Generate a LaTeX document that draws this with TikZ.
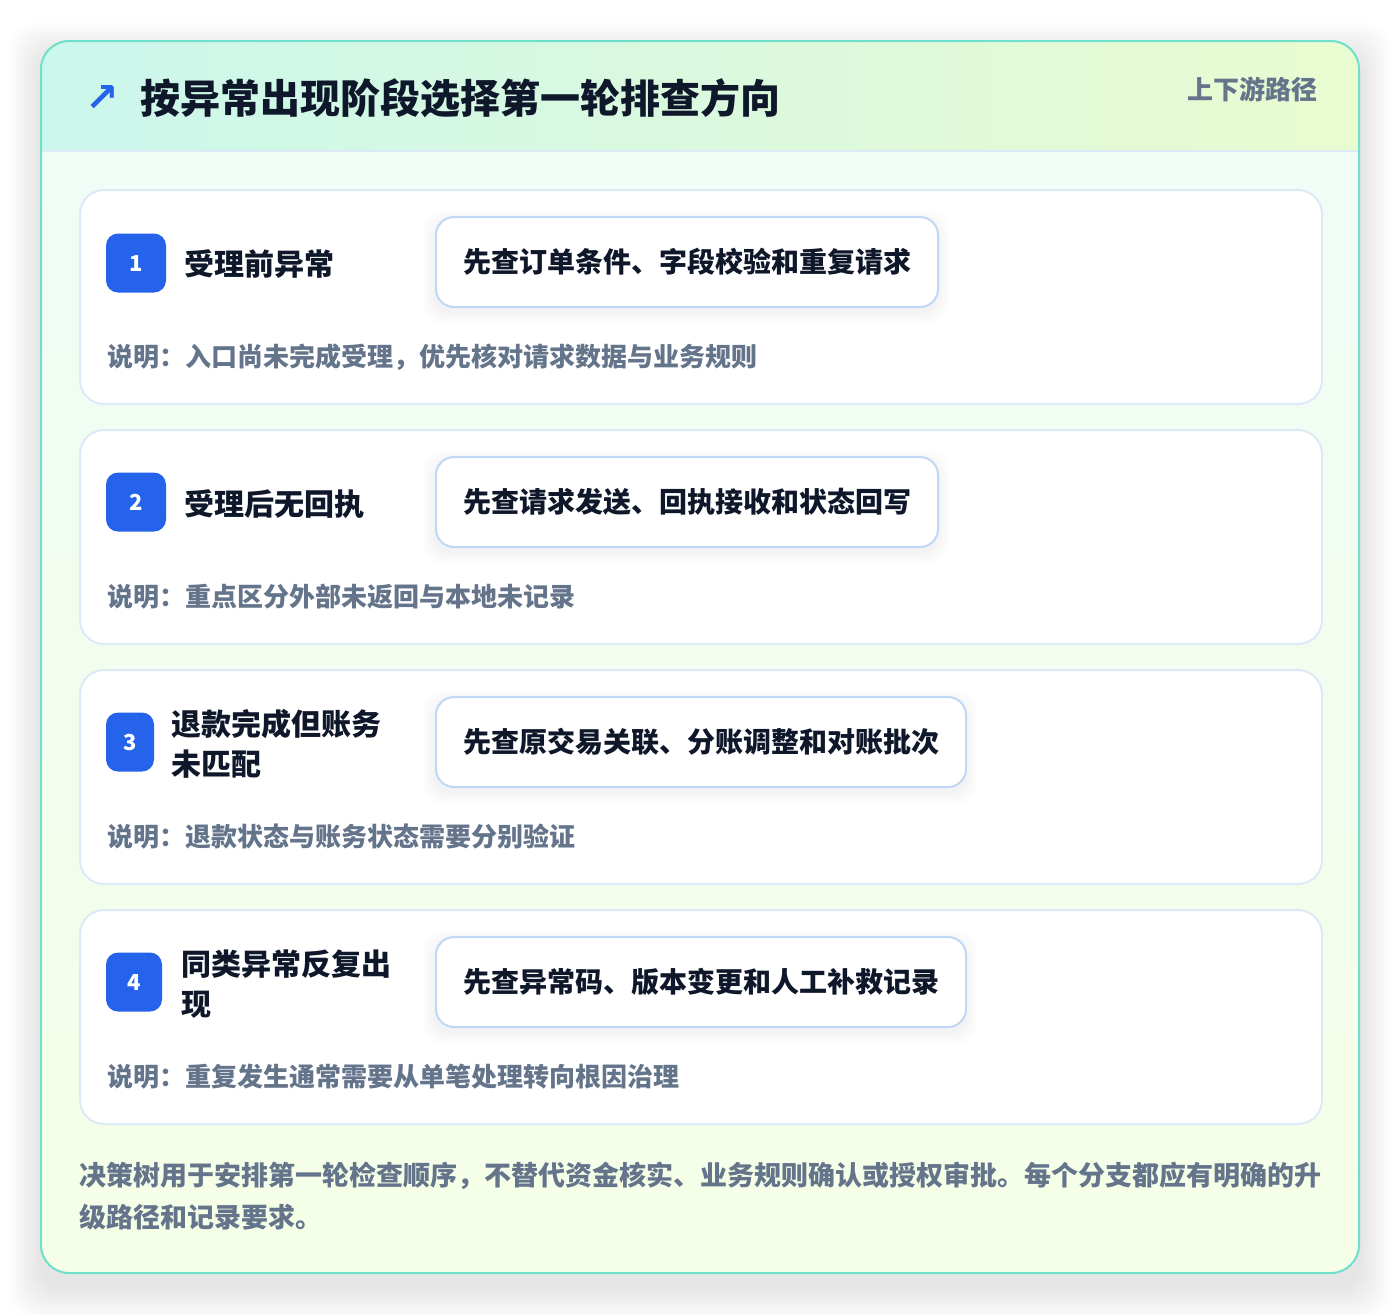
\documentclass[tikz,border=0pt]{standalone}
\usepackage{fontspec}
\setmainfont{Noto Sans CJK SC}
\newfontfamily\symfont{DejaVu Sans}

\definecolor{frameteal}{HTML}{6EE0CB}
\definecolor{headL}{HTML}{CBF7EC}
\definecolor{headR}{HTML}{E9FBD0}
\definecolor{bodyT}{HTML}{EFFCF8}
\definecolor{bodyB}{HTML}{F5FEE6}
\definecolor{cardline}{HTML}{DCE9F7}
\definecolor{boxline}{HTML}{BFD8F5}
\definecolor{badgeblue}{HTML}{2563EB}
\definecolor{ink}{HTML}{0F172A}
\definecolor{slate}{HTML}{64748B}

\tikzset{
  card/.style={draw=cardline, line width=1pt, fill=white, rounded corners=12pt,
    minimum width=621pt, minimum height=107pt, anchor=north west, inner sep=0pt},
  badge/.style={fill=badgeblue, rounded corners=6pt, text=white, inner sep=0pt,
    minimum height=29.5pt, font=\bfseries\fontsize{11}{13}\selectfont},
  label/.style={anchor=west, inner sep=0pt, align=left, text=ink,
    font=\bfseries\fontsize{15}{20}\selectfont},
  action/.style={draw=boxline, line width=1pt, fill=white, rounded corners=9pt,
    minimum height=45pt, anchor=west, text=ink, font=\bfseries\fontsize{14}{17}\selectfont},
  note/.style={anchor=west, inner sep=0pt, text=slate, font=\bfseries\fontsize{13}{16}\selectfont},
  haze/.style={fill=black, opacity=0.009}
}

% soft shadow under a box given by two corners (px)
\newcommand{\softshadow}[5]{%
  \foreach \i in {1,...,#5}
    \fill[haze, opacity=0.007, rounded corners=14pt] (#1-\i*2.5,#2-\i*2.5+14) rectangle (#3+\i*2.5,#4+\i*2.5+14);
}

\begin{document}
\begin{tikzpicture}[x=0.5pt, y=-0.5pt]
		\useasboundingbox (0,0) rectangle (1400,1314);
		\fill[white] (0,0) rectangle (1400,1314);

		% outer frame
		\softshadow{41}{41}{1359}{1273}{13}
		\shade[top color=bodyT, bottom color=bodyB, rounded corners=14pt] (41,41) rectangle (1359,1273);
		\begin{scope}
			\clip[rounded corners=14pt] (41,41) rectangle (1359,1273);
			\shade[left color=headL, right color=headR] (41,41) rectangle (1359,151);
		\end{scope}
		\draw[cardline, line width=1pt] (41,151) -- (1359,151);
		\draw[frameteal, line width=1pt, rounded corners=14pt] (41,41) rectangle (1359,1273);

		% header
		\node (icon)  [text=badgeblue, font=\symfont\bfseries\fontsize{20}{20}\selectfont] at (102,98) {↗};
		\node (title) [anchor=west, inner sep=0pt, text=ink, font=\bfseries\fontsize{20}{24}\selectfont]
		  at (140,98) {按异常出现阶段选择第一轮排查方向};
		\node (tag)   [anchor=east, inner sep=0pt, text=slate, font=\bfseries\fontsize{13}{16}\selectfont]
		  at (1318,89) {上下游路径};

		% branch 1
		\node (c1) [card] at (79,189) {};
		\node (b1) [badge, minimum width=30pt] at (136,263) {1};
		\node (t1) [label] at (184,264) {受理前异常};
		\foreach \i in {1,...,6}
		  \fill[haze, rounded corners=10pt] (435-\i*2,217-\i*2+5) rectangle (937+\i*2,307+\i*2+5);
		\node (a1) [action, minimum width=251pt] at (435,262) {先查订单条件、字段校验和重复请求};
		\node (n1) [note] at (107,357) {说明：入口尚未完成受理，优先核对请求数据与业务规则};

		% branch 2
		\node (c2) [card] at (79,429) {};
		\node (b2) [badge, minimum width=30pt] at (136,502) {2};
		\node (t2) [label] at (184,504) {受理后无回执};
		\foreach \i in {1,...,6}
		  \fill[haze, rounded corners=10pt] (435-\i*2,457-\i*2+5) rectangle (937+\i*2,547+\i*2+5);
		\node (a2) [action, minimum width=251pt] at (435,502) {先查请求发送、回执接收和状态回写};
		\node (n2) [note] at (107,597) {说明：重点区分外部未返回与本地未记录};

		% branch 3
		\node (c3) [card] at (79,669) {};
		\node (b3) [badge, minimum width=24pt] at (130,742) {3};
		\node (t3) [label] at (171,744) {退款完成但账务\\未匹配};
		\foreach \i in {1,...,6}
		  \fill[haze, rounded corners=10pt] (435-\i*2,697-\i*2+5) rectangle (965+\i*2,787+\i*2+5);
		\node (a3) [action, minimum width=265pt] at (435,742) {先查原交易关联、分账调整和对账批次};
		\node (n3) [note] at (107,837) {说明：退款状态与账务状态需要分别验证};

		% branch 4
		\node (c4) [card] at (79,909) {};
		\node (b4) [badge, minimum width=28pt] at (134,982) {4};
		\node (t4) [label] at (181,984) {同类异常反复出\\现};
		\foreach \i in {1,...,6}
		  \fill[haze, rounded corners=10pt] (435-\i*2,937-\i*2+5) rectangle (965+\i*2,1027+\i*2+5);
		\node (a4) [action, minimum width=265pt] at (435,982) {先查异常码、版本变更和人工补救记录};
		\node (n4) [note] at (107,1077) {说明：重复发生通常需要从单笔处理转向根因治理};

		% footer
		\node (foot) [anchor=west, inner sep=0pt, align=left, text=slate,
		  font=\bfseries\fontsize{13.5}{21}\selectfont] at (79,1196)
		  {决策树用于安排第一轮检查顺序，不替代资金核实、业务规则确认或授权审批。每个分支都应有明确的升\\级路径和记录要求。};
\end{tikzpicture}
\end{document}
